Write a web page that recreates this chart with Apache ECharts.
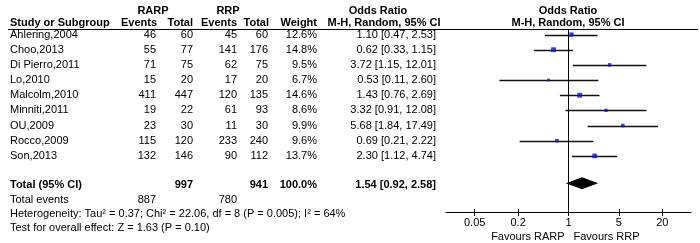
<!DOCTYPE html>
<html>
<head>
<meta charset="utf-8">
<script src="https://cdn.jsdelivr.net/npm/echarts@6/dist/echarts.min.js"></script>
<style>
html, body { margin: 0; padding: 0; background: #fff; }
#chart { width: 700px; height: 243px; }
</style>
</head>
<body>
<div id="chart"></div>
<script>
const studies = ['Ahlering,2004', 'Choo,2013', 'Di Pierro,2011', 'Lo,2010', 'Malcolm,2010',
  'Minniti,2011', 'OU,2009', 'Rocco,2009', 'Son,2013'];
const rarpEvents = [46, 55, 71, 15, 411, 19, 23, 115, 132];
const rarpTotal = [60, 77, 75, 20, 447, 22, 30, 120, 146];
const rrpEvents = [45, 141, 62, 17, 120, 61, 11, 233, 90];
const rrpTotal = [60, 176, 75, 20, 135, 93, 30, 240, 112];
const weights = [12.6, 14.8, 9.5, 6.7, 14.6, 8.6, 9.9, 9.6, 13.7];
const oddsRatio = [1.10, 0.62, 3.72, 0.53, 1.43, 3.32, 5.68, 0.69, 2.30];
const ciLow = [0.47, 0.33, 1.15, 0.11, 0.76, 0.91, 1.84, 0.21, 1.12];
const ciHigh = [2.53, 1.15, 12.01, 2.60, 2.69, 12.08, 17.49, 2.22, 4.74];

const totalRarp = 997;
const totalRrp = 941;
const totalEventsRarp = 887;
const totalEventsRrp = 780;
const pooled = [1.54, 0.92, 2.58]; // estimate, low, high
const tickValues = [0.05, 0.2, 1, 5, 20];
const heterogeneity = 'Heterogeneity: Tau² = 0.37; Chi² = 22.06, df = 8 (P = 0.005); I² = 64%';
const overallTest = 'Test for overall effect: Z = 1.63 (P = 0.10)';

// row positions on the (hidden) y axis
const totalRow = 9.9;
const FONT = '11px "Liberation Sans", Arial, sans-serif';
const BOLD = 'bold 11px "Liberation Sans", Arial, sans-serif';

const chart = echarts.init(document.getElementById('chart'));

const xAxisBase = {
  type: 'log',
  logBase: 10,
  min: 0.02,
  max: 50,
  position: 'bottom',
  splitLine: { show: false },
  minorTick: { show: false }
};

chart.setOption({
  animation: false,
  grid: { left: 446, right: 9, top: 30, bottom: 31 },
  xAxis: [
    Object.assign({}, xAxisBase, {
      axisLine: { show: true, onZero: false, lineStyle: { color: '#000', width: 1 } },
      axisTick: { show: true, customValues: tickValues, length: 4, lineStyle: { color: '#000' } },
      axisLabel: {
        show: true,
        customValues: tickValues,
        margin: 5,
        color: '#000',
        fontSize: 11,
        fontFamily: '"Liberation Sans", Arial, sans-serif',
        formatter: v => String(+(+v).toPrecision(3))
      }
    }),
    Object.assign({}, xAxisBase, {
      axisLine: { show: false, onZero: false },
      axisTick: { show: true, inside: true, customValues: tickValues, length: 3, lineStyle: { color: '#000' } },
      axisLabel: { show: false }
    })
  ],
  yAxis: {
    type: 'value',
    inverse: true,
    min: -0.3,
    max: 11.7,
    show: false,
    splitLine: { show: false }
  },
  series: [
    {
      // confidence intervals
      type: 'custom',
      renderItem: (params, api) => {
        const a = api.coord([api.value(0), api.value(2)]);
        const b = api.coord([api.value(1), api.value(2)]);
        const y = Math.round(a[1]) + 0.5;
        return {
          type: 'line',
          shape: { x1: a[0], y1: y, x2: b[0], y2: y },
          style: { stroke: '#111', lineWidth: 1.4 }
        };
      },
      encode: { x: [0, 1], y: 2 },
      data: studies.map((s, i) => [ciLow[i], ciHigh[i], i]),
      z: 2
    },
    {
      // point estimates
      type: 'scatter',
      symbol: 'rect',
      symbolSize: v => 1 + 0.26 * v[2],
      itemStyle: { color: '#0e0ed0' },
      data: studies.map((s, i) => [oddsRatio[i], i, weights[i]]),
      z: 3,
      markLine: {
        silent: true,
        symbol: 'none',
        label: { show: false },
        lineStyle: { color: '#000', width: 1, type: 'solid' },
        data: [{ xAxis: 1 }]
      }
    },
    {
      // pooled diamond
      type: 'custom',
      renderItem: (params, api) => {
        const y = api.value(3);
        const lo = api.coord([api.value(1), y]);
        const mid = api.coord([api.value(0), y]);
        const hi = api.coord([api.value(2), y]);
        return {
          type: 'polygon',
          shape: { points: [[lo[0], lo[1]], [mid[0], mid[1] - 6], [hi[0], hi[1]], [mid[0], mid[1] + 6]] },
          style: { fill: '#000' }
        };
      },
      encode: { x: [0, 1, 2], y: 3 },
      data: [[pooled[0], pooled[1], pooled[2], totalRow - 0.1]],
      z: 4
    }
  ]
});

// table text, placed on the rows of the y axis
const rowY = v => chart.convertToPixel({ yAxisIndex: 0 }, v);
const xOne = chart.convertToPixel({ xAxisIndex: 0 }, 1);
const fmt2 = v => v.toFixed(2);

const texts = [];
function txt(text, x, row, align, bold) {
  texts.push({
    type: 'text',
    x: x,
    y: typeof row === 'number' ? rowY(row) : row.px,
    silent: true,
    style: {
      text: String(text),
      fill: '#000',
      font: bold ? BOLD : FONT,
      textAlign: align,
      textVerticalAlign: 'middle'
    }
  });
}

// header rows
const h1 = -1.55, h2 = -0.78;
txt('RARP', 153, h1, 'center', true);
txt('RRP', 228, h1, 'center', true);
txt('Odds Ratio', 378, h1, 'center', true);
txt('Odds Ratio', 568, h1, 'center', true);
txt('Study or Subgroup', 10, h2, 'left', true);
txt('Events', 157, h2, 'right', true);
txt('Total', 193, h2, 'right', true);
txt('Events', 237, h2, 'right', true);
txt('Total', 269, h2, 'right', true);
txt('Weight', 317, h2, 'right', true);
txt('M-H, Random, 95% CI', 384, h2, 'center', true);
txt('M-H, Random, 95% CI', 568, h2, 'center', true);

// study rows
studies.forEach((s, i) => {
  txt(s, 10, i, 'left');
  txt(rarpEvents[i], 156, i, 'right');
  txt(rarpTotal[i], 193, i, 'right');
  txt(rrpEvents[i], 237, i, 'right');
  txt(rrpTotal[i], 268, i, 'right');
  txt(weights[i].toFixed(1) + '%', 317, i, 'right');
  txt(`${fmt2(oddsRatio[i])} [${fmt2(ciLow[i])}, ${fmt2(ciHigh[i])}]`, 436, i, 'right');
});

// totals
txt('Total (95% CI)', 10, totalRow, 'left', true);
txt(totalRarp, 193, totalRow, 'right', true);
txt(totalRrp, 268, totalRow, 'right', true);
txt('100.0%', 317, totalRow, 'right', true);
txt(`${fmt2(pooled[0])} [${fmt2(pooled[1])}, ${fmt2(pooled[2])}]`, 436, totalRow, 'right', true);
txt('Total events', 10, 10.9, 'left');
txt(totalEventsRarp, 156, 10.9, 'right');
txt(totalEventsRrp, 237, 10.9, 'right');
txt(heterogeneity, 10, 11.85, 'left');
txt(overallTest, 10, 12.77, 'left');

// favours labels under the axis
txt('Favours RARP', xOne - 4, { px: 237 }, 'right');
txt('Favours RRP', xOne + 5, { px: 237 }, 'left');

// header rule
texts.push({
  type: 'line',
  silent: true,
  shape: { x1: 8, y1: 29.5, x2: 698, y2: 29.5 },
  style: { stroke: '#000', lineWidth: 1 }
});

chart.setOption({ graphic: texts });
</script>
</body>
</html>
